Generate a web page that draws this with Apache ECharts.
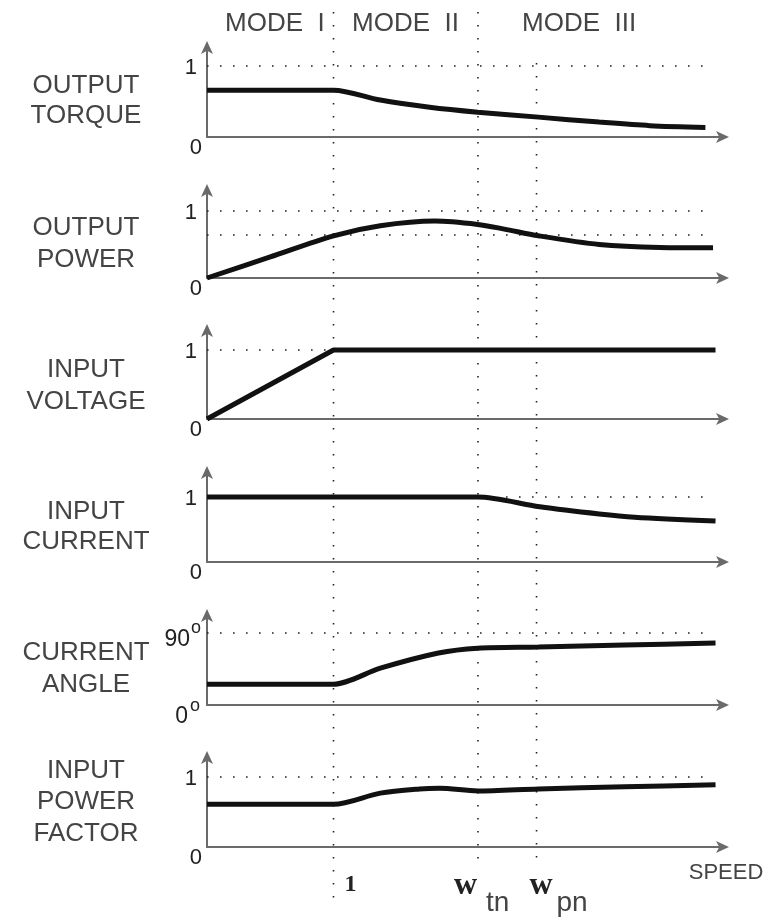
<!DOCTYPE html>
<html>
<head>
<meta charset="utf-8">
<script src="https://cdn.jsdelivr.net/npm/echarts@6/dist/echarts.min.js"></script>
<style>
  html, body { margin: 0; padding: 0; background: #fff; }
  #main { width: 779px; height: 923px; }
</style>
</head>
<body>
<div id="main"></div>
<script>
// speed, normalised to base speed (1 = end of mode I)
let speedMarks = [1, 2.142, 2.605]          // 1, w_tn, w_pn
let speedMarkNames = ['1', 'tn', 'pn']
let modeNames = ['MODE  I', 'MODE  II', 'MODE  III']
let panelNames = [
  ['OUTPUT', 'TORQUE'],
  ['OUTPUT', 'POWER'],
  ['INPUT', 'VOLTAGE'],
  ['INPUT', 'CURRENT'],
  ['CURRENT', 'ANGLE'],
  ['INPUT', 'POWER', 'FACTOR']
]
// dotted reference levels per panel
let refLevels = [[1], [1, 0.65], [1], [1], [90], [1]]
// tick labels per panel (value at 0 and at the unit level)
let tickLabels = [['0', '1'], ['0', '1'], ['0', '1'], ['0', '1'], ['0', '90'], ['0', '1']]

let torque = [[0, 0.66], [0.6, 0.66], [1, 0.66], [1.37, 0.52], [1.76, 0.42], [2.14, 0.35], [2.62, 0.28], [3.1, 0.21], [3.5, 0.16], [3.94, 0.135]]
let power = [[0, 0], [0.5, 0.315], [1, 0.63], [1.37, 0.78], [1.8, 0.85], [2.14, 0.8], [2.35, 0.73], [2.62, 0.63], [3.1, 0.5], [3.58, 0.455], [4.0, 0.45]]
let voltage = [[0, 0], [1, 1], [4.02, 1]]
let current = [[0, 1], [1.5, 1], [2.14, 1], [2.63, 0.85], [3.1, 0.74], [3.38, 0.69], [4.02, 0.63]]
let angle = [[0, 26], [0.6, 26], [1, 26], [1.37, 46], [1.83, 65], [2.14, 71], [2.62, 72.5], [3.3, 75], [4.02, 77.5]]
let powerFactor = [[0, 0.61], [0.6, 0.61], [1, 0.61], [1.37, 0.77], [1.68, 0.83], [1.84, 0.84], [2.14, 0.8], [2.62, 0.83], [3.3, 0.86], [4.02, 0.89]]
let curves = [torque, power, voltage, current, angle, powerFactor]

// layout (pixels): zero line, unit line, arrow tip, label line centres
let layout = [
  { zero: 137, unit: 66, tip: 40, labels: [86, 116] },
  { zero: 278, unit: 211, tip: 183, labels: [228, 260] },
  { zero: 419, unit: 350, tip: 323, labels: [370, 402] },
  { zero: 562, unit: 497, tip: 465, labels: [512, 542] },
  { zero: 705, unit: 633, tip: 608, labels: [653, 685] },
  { zero: 847, unit: 777, tip: 750, labels: [771, 802, 834] }
]
let H = 923
let axisLeft = 207
let axisRight = 730
let unitPx = 126.5
let arrowLen = 7
let speedMax = (axisRight - arrowLen - axisLeft) / unitPx
let vGuideSpans = [[12, 900], [12, 863], [63, 865]]

let axisColor = '#6a6a6a'
let dotStyle = { color: '#222', width: 1.6, type: [1.6, 11.4] }
let labelFont = '"Liberation Sans", Arial, sans-serif'

let grids = []
let xAxes = []
let yAxes = []
let series = []

layout.forEach(function (p, i) {
  let unitVal = refLevels[i][0] === 90 ? 90 : 1
  let top = p.tip + arrowLen
  grids.push({ left: axisLeft, right: 779 - axisRight + arrowLen, top: top, bottom: H - p.zero })
  xAxes.push({
    gridIndex: i, type: 'value', min: 0, max: speedMax,
    axisLine: { show: true, lineStyle: { color: axisColor, width: 2 }, symbol: ['none', 'arrow'], symbolSize: [9, 13], symbolOffset: [0, 6] },
    axisTick: { show: false }, axisLabel: { show: false }, splitLine: { show: false }
  })
  yAxes.push({
    gridIndex: i, type: 'value', min: 0, max: unitVal * (p.zero - top) / (p.zero - p.unit),
    axisLine: { show: true, onZero: false, lineStyle: { color: axisColor, width: 2 }, symbol: ['none', 'arrow'], symbolSize: [9, 13], symbolOffset: [0, 6] },
    axisTick: { show: false }, axisLabel: { show: false }, splitLine: { show: false }
  })
  series.push({
    type: 'line', xAxisIndex: i, yAxisIndex: i,
    data: curves[i],
    smooth: i === 2 ? false : 0.3,
    showSymbol: false,
    lineStyle: { color: '#111', width: 5 },
    z: 5,
    markLine: {
      silent: true, symbol: ['none', 'none'], label: { show: false },
      lineStyle: dotStyle,
      data: refLevels[i].map(function (v) { return [{ coord: [0, v] }, { coord: [4.0, v] }] })
    }
  })
})

// overlay grid for the vertical speed guides through all panels
grids.push({ left: axisLeft, right: 779 - axisRight + arrowLen, top: 0, bottom: 0 })
xAxes.push({ gridIndex: 6, type: 'value', min: 0, max: speedMax, show: false })
yAxes.push({ gridIndex: 6, type: 'value', min: 0, max: H, inverse: true, show: false })
speedMarks.forEach(function (s, k) {
  series.push({
    type: 'line', xAxisIndex: 6, yAxisIndex: 6,
    data: [[s, vGuideSpans[k][0]], [s, vGuideSpans[k][1]]],
    showSymbol: false, lineStyle: dotStyle, z: 1
  })
})

let myChart = echarts.init(document.getElementById('main'), null, { renderer: 'canvas' })
myChart.setOption({
  animation: false,
  backgroundColor: '#fff',
  grid: grids, xAxis: xAxes, yAxis: yAxes, series: series
})

// texts
function txt(x, y, s, font, align, color) {
  return {
    type: 'text', x: x, y: y, z: 10,
    style: { text: s, font: font, fill: color || '#444', align: align || 'center', verticalAlign: 'middle' }
  }
}
let g = []
let modeX = [225, 352, 522]
modeNames.forEach(function (m, k) { g.push(txt(modeX[k], 24, m, '26px ' + labelFont, 'left')) })

layout.forEach(function (p, i) {
  panelNames[i].forEach(function (s, k) { g.push(txt(86, p.labels[k], s, '26px ' + labelFont)) })
  let unitVal = refLevels[i][0] === 90 ? 90 : 1
  let o = myChart.convertToPixel({ gridIndex: i }, [0, 0])
  let u = myChart.convertToPixel({ gridIndex: i }, [0, unitVal])
  if (unitVal === 90) {
    g.push(txt(o[0] - 19, o[1] + 12, tickLabels[i][0], '23px ' + labelFont, 'right', '#222'))
    g.push(txt(o[0] - 12, o[1] + 1, 'o', '18px ' + labelFont, 'center', '#222'))
    g.push(txt(u[0] - 17, u[1] + 7, tickLabels[i][1], '23px ' + labelFont, 'right', '#222'))
    g.push(txt(u[0] - 11, u[1] - 5, 'o', '18px ' + labelFont, 'center', '#222'))
  } else {
    g.push(txt(o[0] - 5, o[1] + 11, tickLabels[i][0], '22px ' + labelFont, 'right', '#222'))
    g.push(txt(o[0] - 10, u[1] + 2, tickLabels[i][1], '22px ' + labelFont, 'right', '#222'))
  }
})

// speed labels under the last panel
let sp = speedMarks.map(function (s) { return myChart.convertToPixel({ gridIndex: 5 }, [s, 0]) })
g.push(txt(sp[0][0] + 17, 885, speedMarkNames[0], 'bold 24px "Liberation Serif", serif', 'center', '#222'))
g.push(txt(sp[1][0] - 24, 886, 'w', 'bold 32px "Liberation Serif", serif', 'left', '#222'))
g.push(txt(sp[1][0] + 8, 903, speedMarkNames[1], '28px ' + labelFont, 'left', '#444'))
g.push(txt(sp[2][0] - 7, 886, 'w', 'bold 32px "Liberation Serif", serif', 'left', '#222'))
g.push(txt(sp[2][0] + 20, 903, speedMarkNames[2], '28px ' + labelFont, 'left', '#444'))
g.push(txt(726, 873, 'SPEED', '22px ' + labelFont, 'center', '#444'))

myChart.setOption({ graphic: g })
</script>
</body>
</html>
